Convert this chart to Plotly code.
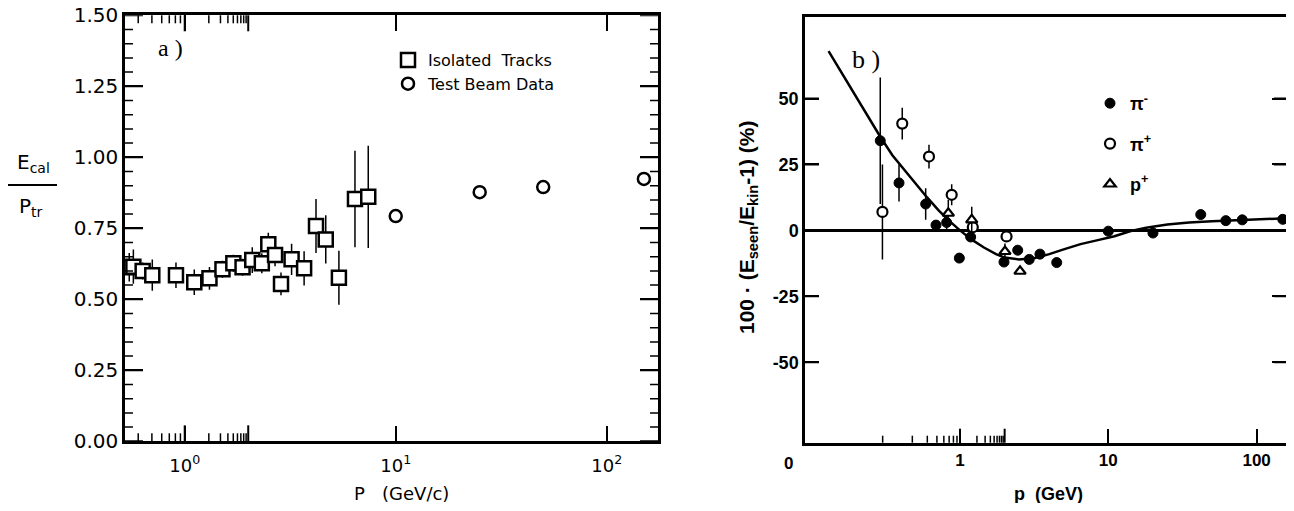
import math
import plotly.graph_objects as go

# page body has an 8px margin: the figure sits at (8, 8) in the 1294x511 window
OFF = 8
FW, FH = 1294 - 2 * OFF, 511 - 2 * OFF

# ---------------- Panel a data ----------------
iso_p = [0.546, 0.571, 0.632, 0.702, 0.909, 1.11, 1.31, 1.51, 1.70, 1.88, 2.09,
         2.32, 2.49, 2.68, 2.86, 3.21, 3.68, 4.19, 4.66, 5.38, 6.41, 7.41]
iso_r = [0.613, 0.615, 0.600, 0.585, 0.585, 0.560, 0.574, 0.606, 0.627, 0.613, 0.638,
         0.627, 0.694, 0.656, 0.554, 0.641, 0.609, 0.758, 0.711, 0.576, 0.853, 0.861]
iso_err = [0.05, 0.06, 0.03, 0.055, 0.045, 0.045, 0.04, 0.03, 0.03, 0.03, 0.045,
           0.035, 0.04, 0.04, 0.04, 0.055, 0.06, 0.095, 0.085, 0.095, 0.17, 0.18]
beam_p = [10, 25, 50, 150]
beam_r = [0.793, 0.877, 0.895, 0.924]

# ---------------- Panel b data ----------------
pim_p = [0.29, 0.388, 0.587, 0.689, 0.813, 0.99, 1.18, 1.98, 2.45, 2.93, 3.46, 4.49,
         10, 20, 42, 62, 80, 150]
pim_y = [34, 18, 10, 2, 3, -10.5, -2.5, -12, -7.5, -11, -9, -12.2,
         -0.3, -1.0, 6.0, 3.7, 4.0, 4.2]
pim_err = [24, 7, 6, 0, 3, 0, 0, 0, 0, 0, 0, 0, 0, 0, 0, 0, 0, 0]
pip_p = [0.30, 0.408, 0.618, 0.879, 1.22, 2.06]
pip_y = [7, 40.5, 28, 13.5, 1.2, -2.3]
pip_err = [18, 6, 4.5, 4, 0, 0]
prot_p = [0.834, 1.2, 2.01, 2.54]
prot_y = [6.5, 4, -8, -15.5]
prot_err = [5, 5, 3, 0]
fit_p = [0.13, 0.2, 0.29, 0.35, 0.42, 0.5, 0.6, 0.72, 0.85, 1.0, 1.2, 1.45, 1.75,
         2.0, 2.5, 3.2, 4.0, 5.0, 6.5, 8.5, 11, 14, 18, 25, 35, 50, 75, 110, 160]
fit_y = [68, 50.5, 35.5, 28.5, 23, 18, 12.5, 7.5, 3.5, 0, -3.5, -6.5, -9,
         -10.3, -11, -10.5, -9, -7.2, -5.2, -3.7, -2.2, -0.3, 1.0, 2.2, 3.0, 3.5, 3.9, 4.3, 4.6]

# ---------------- ticks ----------------
xa_ticks = [1, 10, 100]
xa_text = ["10<sup>0</sup>", "10<sup>1</sup>", "10<sup>2</sup>"]
xa_minor = [0.6, 0.7, 0.8, 0.9, 2, 3, 4, 5, 6, 7, 8, 9, 20, 30, 40, 50, 60, 70, 80, 90]
ya_ticks = [0, 0.25, 0.5, 0.75, 1.0, 1.25, 1.5]
ya_minor = [0.05, 0.1, 0.15, 0.2, 0.3, 0.35, 0.4, 0.45, 0.55, 0.6, 0.65, 0.7,
            0.8, 0.85, 0.9, 0.95, 1.05, 1.1, 1.15, 1.2, 1.3, 1.35, 1.4, 1.45]
xb_ticks = [1, 10, 100]
xb_text = ["1", "10", "100"]
xb_minor = [0.2, 0.3, 0.4, 0.5, 0.6, 0.7, 0.8, 0.9, 2, 3, 4, 5, 6, 7, 8, 9,
            20, 30, 40, 50, 60, 70, 80, 90]
yb_ticks = [-50, -25, 0, 25, 50]
yb_text = ["-50", "-25", "0", "25", "50"]

FA = "DejaVu Sans"
FB = "Liberation Sans"


def px(x):
    return min(1.0, max(0.0, (x - OFF) / FW))


def py(y):
    return min(1.0, max(0.0, 1 - (y - OFF) / FH))


XA_RANGE = [-0.283, 2.243]
XB_RANGE = [-1.045, 2.198]
XA_DOM = [px(125), px(658)]
YA_DOM = [py(441.3), py(15.3)]
XB_DOM = [px(805), px(1288)]
YB_DOM = [py(442.7), py(17.3)]

fig = go.Figure()

# panel a
fig.add_trace(go.Scatter(
    x=iso_p, y=iso_r, mode="markers", name="Isolated  Tracks",
    marker=dict(symbol="square", size=14, color="white", line=dict(color="black", width=2.5)),
    error_y=dict(type="data", array=iso_err, width=0, thickness=1.5, color="black"),
    xaxis="x", yaxis="y", legend="legend"))
fig.add_trace(go.Scatter(
    x=beam_p, y=beam_r, mode="markers", name="Test Beam Data",
    marker=dict(symbol="circle", size=12, color="white", line=dict(color="black", width=2.5)),
    xaxis="x", yaxis="y", legend="legend"))

# panel b
fig.add_trace(go.Scatter(
    x=fit_p, y=fit_y, mode="lines", line=dict(color="black", width=2.5),
    xaxis="x2", yaxis="y2", showlegend=False, hoverinfo="skip"))
fig.add_trace(go.Scatter(
    x=pim_p, y=pim_y, mode="markers", name="π<sup>-</sup>",
    marker=dict(symbol="circle", size=10, color="black", line=dict(color="black", width=1)),
    error_y=dict(type="data", array=pim_err, width=0, thickness=1.5, color="black"),
    xaxis="x2", yaxis="y2", legend="legend2", legendgroup="b1"))
fig.add_trace(go.Scatter(
    x=pip_p, y=pip_y, mode="markers", name="π<sup>+</sup>",
    marker=dict(symbol="circle", size=10, color="white", line=dict(color="black", width=2.2)),
    error_y=dict(type="data", array=pip_err, width=0, thickness=1.5, color="black"),
    xaxis="x2", yaxis="y2", legend="legend2", legendgroup="b2"))
fig.add_trace(go.Scatter(
    x=prot_p, y=prot_y, mode="markers", name="p<sup>+</sup>",
    marker=dict(symbol="triangle-up", size=10, color="white", line=dict(color="black", width=2.2)),
    error_y=dict(type="data", array=prot_err, width=0, thickness=1.5, color="black"),
    xaxis="x2", yaxis="y2", legend="legend2", legendgroup="b3"))

base = dict(ticks="inside", tickcolor="black", showgrid=False, zeroline=False,
            showline=True, linecolor="black", linewidth=2.5, tickwidth=2,
            ticklabeloverflow="allow")

fig.update_layout(
    width=FW, height=FH, margin=dict(l=0, r=0, t=0, b=0, autoexpand=False),
    paper_bgcolor="white", plot_bgcolor="white",
    xaxis=dict(base, type="log", range=XA_RANGE, domain=XA_DOM, anchor="y",
               mirror="allticks", tickvals=xa_ticks, ticktext=xa_text, ticklen=16,
               ticklabelstandoff=6,
               tickfont=dict(family=FA, size=18, color="black")),
    yaxis=dict(base, range=[0, 1.5], domain=YA_DOM, anchor="x", mirror="allticks",
               tickvals=ya_ticks, tickformat=".2f", ticklen=18,
               tickfont=dict(family=FA, size=20, color="black")),
    xaxis2=dict(base, type="log", range=XB_RANGE, domain=XB_DOM, anchor="y2", mirror=True,
                tickvals=xb_ticks, ticktext=xb_text, ticklen=14,
                tickfont=dict(family=FB, size=17, color="black", weight="bold")),
    yaxis2=dict(base, range=[-80.5, 80.8], domain=YB_DOM, anchor="x2", mirror="ticks",
                tickvals=yb_ticks, ticktext=yb_text, ticklen=14,
                tickfont=dict(family=FB, size=18, color="black", weight="bold"),
                zeroline=True, zerolinecolor="black", zerolinewidth=2.5),
    legend=dict(x=px(388), y=py(43), xanchor="left", yanchor="top",
                bgcolor="rgba(0,0,0,0)", itemsizing="trace",
                font=dict(family=FA, size=16, color="black")),
    legend2=dict(x=px(1090), y=py(85), xanchor="left", yanchor="top",
                 bgcolor="rgba(0,0,0,0)", tracegroupgap=14, itemsizing="trace",
                 font=dict(family=FB, size=18, color="black", weight="bold")),
    showlegend=True,
)

ann = [
    dict(x=px(170), y=py(48), text="a )", font=dict(family="Liberation Serif", size=24)),
    dict(x=px(866), y=py(59), text="b )", font=dict(family="Liberation Serif", size=26)),
    dict(x=px(33), y=py(163), text="E<sub>cal</sub>", font=dict(family=FA, size=20)),
    dict(x=px(31), y=py(207), text="P<sub>tr</sub>", font=dict(family=FA, size=20)),
    dict(x=px(401), y=py(493), text="P   (GeV/c)", font=dict(family=FA, size=18)),
    dict(x=px(1048), y=py(494), text="<b>p  (GeV)</b>", font=dict(family=FB, size=18)),
    dict(x=px(788), y=py(463), text="<b>0</b>", font=dict(family=FB, size=17)),
    dict(x=px(748), y=py(228), text="<b>100 · (E<sub>seen</sub>/E<sub>kin</sub>-1) (%)</b>",
         textangle=-90, font=dict(family=FB, size=21)),
]
for a in ann:
    a.update(xref="paper", yref="paper", showarrow=False, xanchor="center", yanchor="middle")
    a["font"]["color"] = "black"
fig.update_layout(annotations=ann)

# fraction bar of the y title in panel a
fig.add_shape(type="line", xref="paper", yref="paper", x0=px(8), x1=px(57),
              y0=py(185), y1=py(185), line=dict(color="black", width=2))

# tick marks placed through the axes' own scales
shapes = []


def xtick(xr, yr, v, length, width, top=False, log=True):
    xv = math.log10(v) if log else v
    shapes.append(dict(type="line", xref=xr, yref=yr + " domain", ysizemode="pixel",
                       yanchor=1 if top else 0, y0=0, y1=-length if top else length,
                       x0=xv, x1=xv, line=dict(color="black", width=width)))


def ytick(xr, yr, v, length, width, right=False):
    shapes.append(dict(type="line", yref=yr, xref=xr + " domain", xsizemode="pixel",
                       xanchor=1 if right else 0, x0=0, x1=-length if right else length,
                       y0=v, y1=v, line=dict(color="black", width=width)))


for v in xa_ticks:
    xtick("x", "y", v, 16, 2)
    xtick("x", "y", v, 16, 2, top=True)
for v in xa_minor:
    xtick("x", "y", v, 8, 1.5)
    xtick("x", "y", v, 8, 1.5, top=True)
for v in ya_ticks:
    ytick("x", "y", v, 18, 2)
    ytick("x", "y", v, 18, 2, right=True)
for v in ya_minor:
    ytick("x", "y", v, 8, 1.5)
    ytick("x", "y", v, 8, 1.5, right=True)
for v in xb_ticks:
    xtick("x2", "y2", v, 14, 2)
for v in xb_minor:
    xtick("x2", "y2", v, 7, 1.5)
for v in yb_ticks:
    ytick("x2", "y2", v, 14, 2)
    ytick("x2", "y2", v, 12, 2, right=True)

for s in shapes:
    fig.add_shape(**s)

fig.write_html("out.html")
